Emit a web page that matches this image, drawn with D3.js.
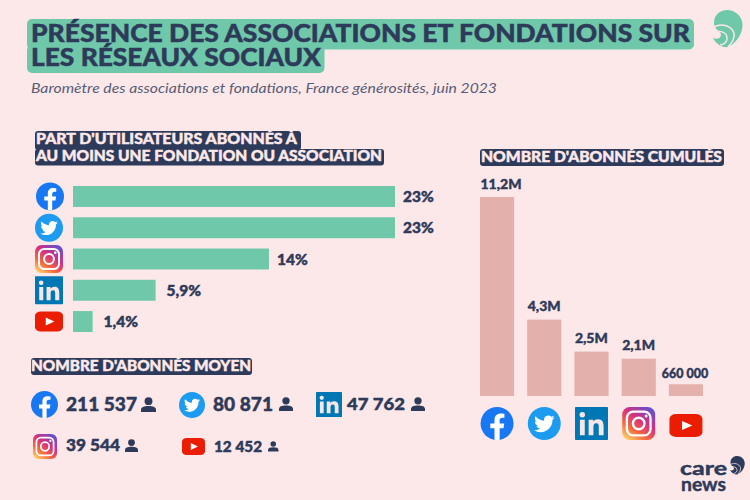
<!DOCTYPE html>
<html>
<head>
<meta charset="utf-8">
<script src="https://cdn.jsdelivr.net/npm/d3@7"></script>
<style>
html, body { margin: 0; padding: 0; background: #fde8e9; }
svg { display: block; }
text { font-family: Lato, sans-serif; }
</style>
</head>
<body>
<script>
// data
var shareNetworks = ["facebook", "twitter", "instagram", "linkedin", "youtube"];
var shareValues = [23, 23, 14, 5.9, 1.4];
var shareLabels = ["23%", "23%", "14%", "5,9%", "1,4%"];

var totalNetworks = ["facebook", "twitter", "linkedin", "instagram", "youtube"];
var totalValues = [11.2, 4.3, 2.5, 2.1, 0.66];
var totalLabels = ["11,2M", "4,3M", "2,5M", "2,1M", "660 000"];

var averageNetworks = ["facebook", "twitter", "linkedin", "instagram", "youtube"];
var averageLabels = ["211 537", "80 871", "47 762", "39 544", "12 452"];

var navy = "#2e3a59", teal = "#6fc8a9", rose = "#e3b0ab", cream = "#fde8e9";

const svg = d3.select("body").append("svg")
    .attr("width", 750)
    .attr("height", 500);

svg.append("rect").attr("width", 750).attr("height", 500).attr("fill", cream);

var defs = svg.append("defs");
var grad = defs.append("linearGradient").attr("id", "insta")
    .attr("x1", "0.15").attr("y1", "1").attr("x2", "0.85").attr("y2", "0");
[["0", "#fdd069"], ["0.3", "#f4683c"], ["0.6", "#d62f80"], ["1", "#5b51d8"]].forEach(function (s) {
    grad.append("stop").attr("offset", s[0]).attr("stop-color", s[1]);
});

// text squeezed to the measured width, thickened a bit with a stroke
function label(x, y, str, width, size, color, weight) {
    return svg.append("text")
        .attr("x", x).attr("y", y)
        .attr("font-size", size)
        .attr("font-weight", weight || 900)
        .attr("fill", color)
        .attr("stroke", color)
        .attr("stroke-width", 0.45)
        .attr("textLength", width)
        .attr("lengthAdjust", "spacingAndGlyphs")
        .text(str);
}

function box(x0, y0, x1, y1, color, r) {
    svg.append("rect")
        .attr("x", x0).attr("y", y0)
        .attr("width", x1 - x0).attr("height", y1 - y0)
        .attr("rx", r).attr("fill", color);
}

// 24x24 icons, placed by their box
function icon(name, x, y, w, h) {
    var g = svg.append("g").attr("transform", "translate(" + x + "," + y + ") scale(" + (w / 24) + "," + (h / 24) + ")");
    if (name == "facebook") {
        g.append("circle").attr("cx", 12).attr("cy", 12).attr("r", 12).attr("fill", "#1877f2");
        g.append("path").attr("fill", "#fff")
            .attr("d", "M16.671 15.469 17.203 12h-3.328V9.75c0-.949.465-1.875 1.956-1.875h1.513V4.922s-1.374-.234-2.686-.234c-2.741 0-4.533 1.66-4.533 4.668V12H7.078v3.469h3.047v8.385a12.09 12.09 0 003.75 0v-8.385z");
    } else if (name == "twitter") {
        g.append("circle").attr("cx", 12).attr("cy", 12).attr("r", 12).attr("fill", "#1d9bf0");
        g.append("path").attr("fill", "#fff")
            .attr("transform", "translate(4.6,4.8) scale(0.62)")
            .attr("d", "M23.953 4.57a10 10 0 01-2.825.775 4.958 4.958 0 002.163-2.723c-.951.555-2.005.959-3.127 1.184a4.92 4.92 0 00-8.384 4.482C7.69 8.095 4.067 6.13 1.64 3.162a4.822 4.822 0 00-.666 2.475c0 1.71.87 3.213 2.188 4.096a4.904 4.904 0 01-2.228-.616v.06a4.923 4.923 0 003.946 4.827 4.996 4.996 0 01-2.212.085 4.936 4.936 0 004.604 3.417 9.867 9.867 0 01-6.102 2.105c-.39 0-.779-.023-1.17-.067a13.995 13.995 0 007.557 2.209c9.053 0 13.998-7.496 13.998-13.985 0-.21 0-.42-.015-.63A9.935 9.935 0 0024 4.59z");
    } else if (name == "linkedin") {
        g.append("rect").attr("width", 24).attr("height", 24).attr("rx", 0.6).attr("fill", "#0077b5");
        g.append("path").attr("fill", "#f6e6e6")
            .attr("d", "M7.1 20.5H3.6V9.2h3.5zM5.3 7.6a2 2 0 110-4 2 2 0 010 4zM20.8 20.5h-3.5v-5.6c0-1.3 0-3-1.8-3s-2.1 1.4-2.1 2.9v5.7H9.9V9.2h3.4v1.5c.5-.9 1.6-1.8 3.3-1.8 3.5 0 4.2 2.3 4.2 5.3z");
    } else if (name == "instagram") {
        g.append("rect").attr("width", 24).attr("height", 24).attr("rx", 5.5).attr("fill", "url(#insta)");
        g.append("rect").attr("x", 3.4).attr("y", 3.4).attr("width", 17.2).attr("height", 17.2).attr("rx", 4.6)
            .attr("fill", "none").attr("stroke", "#fff").attr("stroke-width", 1.7);
        g.append("circle").attr("cx", 12).attr("cy", 12).attr("r", 4.2)
            .attr("fill", "none").attr("stroke", "#fff").attr("stroke-width", 1.7);
        g.append("circle").attr("cx", 17.4).attr("cy", 6.6).attr("r", 1.1).attr("fill", "#fff");
    } else if (name == "youtube") {
        g.append("rect").attr("width", 24).attr("height", 24).attr("rx", 5).attr("fill", "#ea1d00");
        g.append("path").attr("fill", "#fff").attr("d", "M9.2 7.2 16.6 12 9.2 16.8z");
    }
}

function person(x, y, s) {
    var g = svg.append("g").attr("transform", "translate(" + x + "," + y + ") scale(" + (s / 16) + ")").attr("fill", navy);
    g.append("circle").attr("cx", 8).attr("cy", 4.4).attr("r", 4.2);
    g.append("path").attr("d", "M0 16v-2.4C0 10.8 3 9.6 8 9.6s8 1.2 8 4V16z");
}

// swirl logo, drawn in a 30x38 box
function swirl(x, y, s, fill, line) {
    var g = svg.append("g").attr("transform", "translate(" + x + "," + y + ") scale(" + s + ")");
    g.append("path").attr("fill", fill)
        .attr("d", "M1 13C1 5 7 0 14 0C23 0 29.5 7 29.5 15C29.5 25 22 34 15 37C9 38 3 34 0 28C4 30 8 28 8 25C8 21 1 20 1 13z");
    g.selectAll("path.arc").data([
        "M1 17C8 13 18 15 21 23C22 28 19 33 15 37",
        "M1 22C6 20 13 22 14 27C15 31 11 35 7 35"
    ]).enter().append("path")
        .attr("class", "arc")
        .attr("d", function (d) { return d; })
        .attr("fill", "none").attr("stroke", line).attr("stroke-width", 1.5);
}

// title
box(27, 19, 694, 49.5, teal, 5);
box(27, 45, 324.5, 73, teal, 5);
label(31, 42, "PRÉSENCE DES ASSOCIATIONS ET FONDATIONS SUR", 659, 24.5, navy);
label(31, 66, "LES RÉSEAUX SOCIAUX", 290, 24.5, navy);
svg.append("text").attr("x", 31).attr("y", 93)
    .attr("font-size", 13).attr("font-style", "italic").attr("font-weight", 400)
    .attr("fill", "#565d77").attr("textLength", 466).attr("lengthAdjust", "spacingAndGlyphs")
    .text("Baromètre des associations et fondations, France générosités, juin 2023");

swirl(713, 10, 1, teal, cream);

// section headings
box(35, 131, 301, 150, navy, 3);
box(35, 149, 384, 165.5, navy, 3);
label(36, 144, "PART D'UTILISATEURS ABONNÉS À", 261, 14.5, cream);
label(36, 161, "AU MOINS UNE FONDATION OU ASSOCIATION", 346, 14.5, cream);
box(31, 358, 252, 375, navy, 3);
label(31, 371, "NOMBRE D'ABONNÉS MOYEN", 220, 14.5, cream);
box(480, 149, 724, 166, navy, 3);
label(481, 162, "NOMBRE D'ABONNÉS CUMULÉS", 241, 14.5, cream);

// share of users, horizontal bars
const x = d3.scaleLinear().domain([0, 23]).range([73, 395]);
const rows = d3.scaleBand().domain(shareNetworks).range([186, 332]).paddingInner(0.33);
const shareRows = shareNetworks.map(function (n, i) {
    return { name: n, value: shareValues[i], label: shareLabels[i] };
});

svg.selectAll("rect.share")
    .data(shareRows)
    .enter()
    .append("rect")
    .attr("class", "share")
    .attr("x", x(0))
    .attr("y", function (d) { return rows(d.name); })
    .attr("width", function (d) { return x(d.value) - x(0); })
    .attr("height", rows.bandwidth())
    .attr("fill", teal);

svg.selectAll("text.share")
    .data(shareRows)
    .enter()
    .append("text")
    .attr("class", "share")
    .attr("x", function (d) { return x(d.value) + (d.value < 10 ? 11 : 8); })
    .attr("y", function (d) { return rows(d.name) + rows.bandwidth() / 2 + 5.5; })
    .attr("font-size", 15.5)
    .attr("font-weight", 900)
    .attr("fill", navy)
    .attr("stroke", navy)
    .attr("stroke-width", 0.45)
    .text(function (d) { return d.label; });

shareRows.forEach(function (d) {
    var cy = rows(d.name) + rows.bandwidth() / 2;
    if (d.name == "youtube") icon(d.name, 35, cy - 10, 28, 20);
    else icon(d.name, d.name == "facebook" ? 36 : 35, cy - 14, 28, 28);
});

// cumulated followers, vertical bars
const bandX = d3.scaleBand().domain(totalNetworks).range([480, 703]).paddingInner(0.277);
const y = d3.scaleLinear().domain([0, 11.2]).range([396, 197]);
const totalRows = totalNetworks.map(function (n, i) {
    return { name: n, value: totalValues[i], label: totalLabels[i] };
});

svg.selectAll("rect.total")
    .data(totalRows)
    .enter()
    .append("rect")
    .attr("class", "total")
    .attr("x", function (d) { return bandX(d.name); })
    .attr("y", function (d) { return y(d.value); })
    .attr("width", bandX.bandwidth())
    .attr("height", function (d) { return y(0) - y(d.value); })
    .attr("fill", rose);

svg.selectAll("text.total")
    .data(totalRows)
    .enter()
    .append("text")
    .attr("class", "total")
    .attr("x", function (d) { return d.name == "youtube" ? bandX(d.name) - 7 : bandX(d.name) + 0.5; })
    .attr("y", function (d) { return y(d.value) - (d.name == "youtube" ? 6.5 : 8.5); })
    .attr("font-size", function (d) { return d.name == "youtube" ? 12.5 : 14; })
    .attr("font-weight", 900)
    .attr("fill", navy)
    .attr("stroke", navy)
    .attr("stroke-width", 0.4)
    .text(function (d) { return d.label; });

totalRows.forEach(function (d) {
    var cx = bandX(d.name) + bandX.bandwidth() / 2;
    if (d.name == "youtube") icon(d.name, cx - 16.5, 414, 33, 23);
    else icon(d.name, cx - 16.5, 407, 33, 33);
});

// average followers
var averageSlots = [
    { ix: 31, iy: 391, iw: 27, ih: 27, tx: 66, ty: 411, tw: 71, fs: 19.5, px: 141, py: 397, ps: 15 },
    { ix: 179, iy: 392, iw: 26, ih: 26, tx: 213, ty: 411, tw: 60, fs: 19.5, px: 279, py: 397, ps: 14 },
    { ix: 316, iy: 392, iw: 26, ih: 25, tx: 347, ty: 410, tw: 58, fs: 17.5, px: 411, py: 397, ps: 14 },
    { ix: 33, iy: 434, iw: 24, ih: 25, tx: 66, ty: 451, tw: 54, fs: 16, px: 125, py: 439, ps: 13 },
    { ix: 182, iy: 438, iw: 23, ih: 17, tx: 214, ty: 452, tw: 48, fs: 15, px: 268, py: 441, ps: 10.5 }
];

averageNetworks.forEach(function (n, i) {
    var s = averageSlots[i];
    icon(n, s.ix, s.iy, s.iw, s.ih);
    label(s.tx, s.ty, averageLabels[i], s.tw, s.fs, navy);
    person(s.px, s.py, s.ps);
});

// care news logo
label(680, 475, "care", 47, 19, navy, 700);
label(681, 491, "news", 45, 19, navy, 700);
swirl(730, 456, 0.5, navy, cream);
</script>
</body>
</html>
